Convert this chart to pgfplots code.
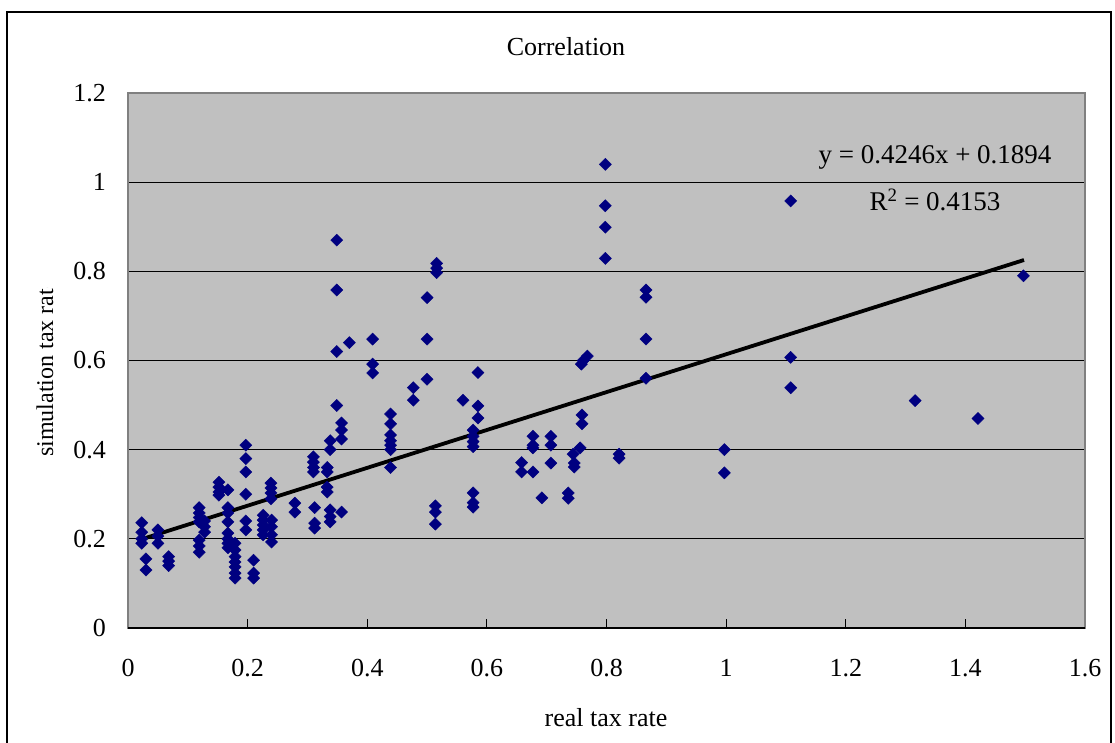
\documentclass[border=0pt]{standalone}
\usepackage{fontspec}
\setmainfont{Liberation Serif}
\usepackage{pgfplots}
\pgfplotsset{compat=1.18}
\definecolor{plotgray}{RGB}{192,192,192}
\definecolor{navy}{RGB}{0,0,128}
\definecolor{bordergray}{RGB}{128,128,128}
\newcommand{\chartfont}{\fontsize{26}{31}\selectfont}
\begin{document}
\begin{tikzpicture}[x=1pt,y=1pt]
\useasboundingbox (0,0) rectangle (1115,742);
\draw[black, line width=1.2pt] (7,-20) rectangle (1111,730);
\begin{axis}[
  at={(128pt,114pt)}, anchor=south west,
  width=957pt, height=535pt, scale only axis,
  xmin=0, xmax=1.6, ymin=0, ymax=1.2,
  xtick={0,0.2,0.4,0.6,0.8,1,1.2,1.4,1.6},
  ytick={0,0.2,0.4,0.6,0.8,1,1.2},
  xticklabels={0,0.2,0.4,0.6,0.8,1,1.2,1.4,1.6},
  yticklabels={0,0.2,0.4,0.6,0.8,1,1.2},
  ymajorgrids,
  grid style={black, line width=0.9pt},
  axis background/.style={fill=plotgray},
  axis line style={bordergray, line width=1.2pt},
  tick align=inside, xtick pos=bottom, ytick pos=left,
  major tick length=9pt,
  tick style={black, line width=0.9pt},
  tick label style={font=\chartfont, inner sep=0pt},
  xticklabel style={yshift=-31pt},
  yticklabel style={xshift=-22pt},
  /pgf/number format/assume math mode=true,
  clip=false,
]
\draw[black, line width=1.4pt] (rel axis cs:0,0) -- (rel axis cs:1,0);
\addplot[only marks, mark=square*, mark size=4.3pt, mark options={rotate=45, fill=navy, draw=navy}] table {
x y
0.023 0.236
0.023 0.215
0.023 0.200
0.023 0.190
0.030 0.155
0.030 0.130
0.050 0.220
0.050 0.206
0.050 0.190
0.068 0.160
0.068 0.150
0.068 0.140
0.119 0.270
0.119 0.258
0.119 0.248
0.119 0.238
0.119 0.197
0.119 0.184
0.119 0.170
0.128 0.240
0.128 0.227
0.128 0.215
0.152 0.327
0.152 0.316
0.152 0.305
0.152 0.298
0.167 0.310
0.167 0.270
0.167 0.258
0.167 0.238
0.167 0.213
0.167 0.200
0.167 0.190
0.167 0.180
0.179 0.190
0.179 0.175
0.179 0.160
0.179 0.148
0.179 0.137
0.179 0.123
0.179 0.112
0.197 0.410
0.197 0.380
0.197 0.350
0.197 0.300
0.197 0.240
0.197 0.220
0.210 0.152
0.210 0.123
0.210 0.112
0.226 0.253
0.226 0.242
0.226 0.231
0.226 0.220
0.226 0.209
0.240 0.242
0.240 0.227
0.240 0.209
0.240 0.193
0.239 0.325
0.239 0.314
0.239 0.303
0.239 0.290
0.279 0.280
0.279 0.260
0.310 0.384
0.310 0.372
0.310 0.360
0.310 0.350
0.312 0.270
0.312 0.235
0.312 0.224
0.333 0.360
0.333 0.350
0.333 0.316
0.333 0.305
0.338 0.420
0.338 0.400
0.338 0.265
0.338 0.250
0.338 0.238
0.357 0.460
0.357 0.444
0.357 0.424
0.357 0.260
0.349 0.870
0.349 0.758
0.349 0.620
0.349 0.499
0.370 0.640
0.409 0.648
0.409 0.592
0.409 0.572
0.439 0.480
0.439 0.458
0.439 0.433
0.439 0.420
0.439 0.410
0.439 0.400
0.439 0.360
0.477 0.539
0.477 0.511
0.500 0.741
0.500 0.648
0.500 0.558
0.516 0.818
0.516 0.807
0.516 0.797
0.514 0.274
0.514 0.260
0.514 0.233
0.560 0.511
0.577 0.444
0.577 0.430
0.577 0.418
0.577 0.407
0.577 0.303
0.577 0.281
0.577 0.271
0.585 0.573
0.585 0.498
0.585 0.471
0.658 0.371
0.658 0.350
0.677 0.430
0.677 0.410
0.677 0.404
0.677 0.350
0.692 0.292
0.707 0.430
0.707 0.410
0.707 0.370
0.736 0.303
0.736 0.291
0.744 0.390
0.746 0.370
0.746 0.361
0.756 0.404
0.759 0.478
0.759 0.458
0.758 0.592
0.761 0.600
0.768 0.610
0.798 1.040
0.798 0.947
0.798 0.899
0.798 0.829
0.821 0.390
0.821 0.381
0.866 0.758
0.866 0.742
0.866 0.648
0.866 0.560
0.997 0.400
0.997 0.348
1.108 0.958
1.108 0.607
1.108 0.539
1.316 0.510
1.421 0.470
1.497 0.790
};
\addplot[black, line width=3.8pt, no marks] coordinates {(0.023,0.1992) (1.498,0.8254)};
\end{axis}
\node[font=\chartfont] at (566,695) {Correlation};
\node[font=\chartfont] at (606,24) {real tax rate};
\node[font=\fontsize{27}{32}\selectfont] at (935,585) {y = 0.4246x + 0.1894};
\node[font=\fontsize{27}{32}\selectfont] at (935,542) {R\textsuperscript{2} = 0.4153};
\begin{scope}
\clip (0,0) rectangle (1115,454);
\node[font=\fontsize{24}{29}\selectfont, rotate=90, anchor=west, inner sep=0pt] at (45,285) {simulation tax rate};
\end{scope}
\end{tikzpicture}
\end{document}
